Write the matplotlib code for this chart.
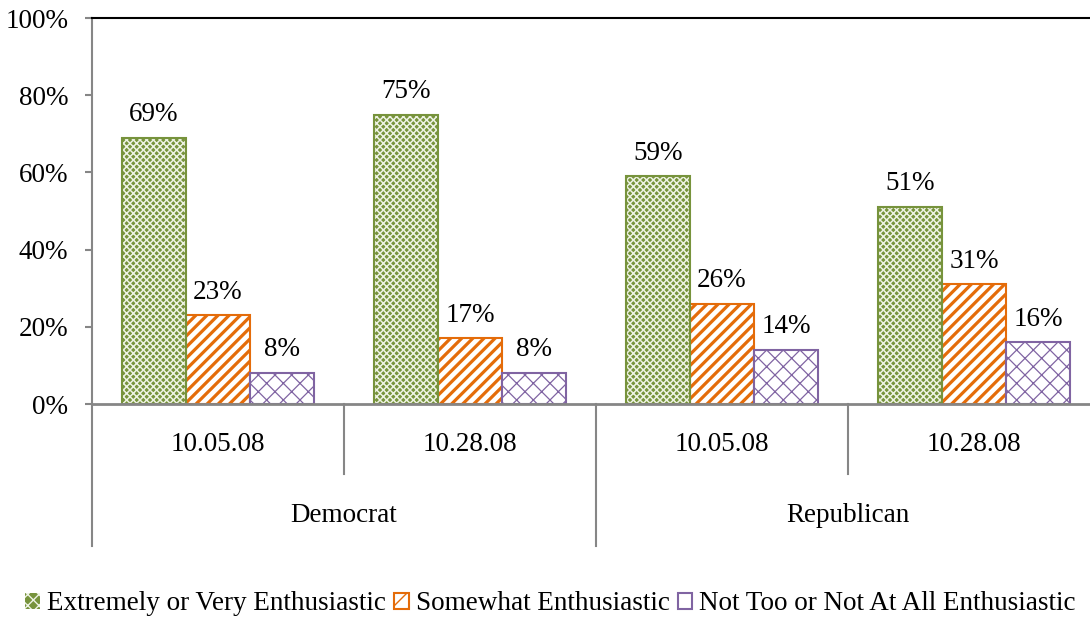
import matplotlib
matplotlib.use("Agg")
import matplotlib.pyplot as plt
from matplotlib.patches import Patch
from matplotlib.ticker import PercentFormatter
from matplotlib.transforms import blended_transform_factory

plt.rcParams['font.family'] = ['Liberation Serif', 'DejaVu Serif']

# data
dates = ['10.05.08', '10.28.08', '10.05.08', '10.28.08']
parties = ['Democrat', 'Republican']
series = [
    'Extremely or Very Enthusiastic',
    'Somewhat Enthusiastic',
    'Not Too or Not At All Enthusiastic',
]
extremely = [69, 75, 59, 51]
somewhat = [23, 17, 26, 31]
not_too = [8, 8, 14, 16]

GREEN = '#77933C'
ORANGE = '#E46C0A'
PURPLE = '#8064A2'
GRAY = '#868686'
LATTICE = '#EEF3E4'
FS = 19.5

W, H = 1090, 617
fig = plt.figure(figsize=(W / 100, H / 100), dpi=100)
ax = fig.add_axes([92 / W, (H - 404) / H, 1008 / W, 386 / H])

x = list(range(len(dates)))
bw = 0.254


def hatched(bars, lw):
    for b in bars:
        if hasattr(b, 'set_hatch_linewidth'):
            b.set_hatch_linewidth(lw)


# green: green face with a light lattice, then a green outline
g = ax.bar([i - bw for i in x], [v / 100 for v in extremely], bw,
           color=GREEN, edgecolor=LATTICE, hatch='xxxxx', linewidth=0, zorder=2)
hatched(g, 1.1)
ax.bar([i - bw for i in x], [v / 100 for v in extremely], bw,
       fill=False, edgecolor=GREEN, linewidth=1.5, zorder=3)

o = ax.bar(x, [v / 100 for v in somewhat], bw,
           facecolor='white', edgecolor=ORANGE, hatch='///', linewidth=1.5, zorder=2)
hatched(o, 2.3)

p = ax.bar([i + bw for i in x], [v / 100 for v in not_too], bw,
           facecolor='white', edgecolor=PURPLE, hatch='xx', linewidth=1.5, zorder=2)
hatched(p, 0.9)

for vals, off in [(extremely, -bw), (somewhat, 0), (not_too, bw)]:
    for i, v in zip(x, vals):
        ax.annotate(f'{v}%', (i + off, v / 100), xytext=(0, 12),
                    textcoords='offset points', ha='center', va='baseline',
                    fontsize=FS)

ax.set_xlim(-0.5, 3.5)
ax.set_ylim(0, 1)
ax.set_yticks([0, 0.2, 0.4, 0.6, 0.8, 1.0])
ax.yaxis.set_major_formatter(PercentFormatter(1.0, decimals=0))
ax.tick_params(axis='y', length=5, width=1.5, color=GRAY, pad=12, labelsize=FS)
ax.set_xticks([])

ax.spines['right'].set_visible(False)
ax.spines['top'].set_color('black')
ax.spines['top'].set_linewidth(1.5)
ax.spines['left'].set_color(GRAY)
ax.spines['left'].set_linewidth(1.5)
ax.spines['bottom'].set_color(GRAY)
ax.spines['bottom'].set_linewidth(2)
ax.spines['bottom'].set_zorder(4)

# two-level category axis
tr = blended_transform_factory(ax.transData, ax.transAxes)
for xs, y1 in [(-0.5, -0.368), (0.5, -0.181), (1.5, -0.368),
               (2.5, -0.181), (3.5, -0.368)]:
    ax.plot([xs, xs], [0, y1], transform=tr, color=GRAY, lw=1.5,
            clip_on=False, zorder=4)
for i, d in zip(x, dates):
    ax.text(i, -0.104, d, transform=tr, ha='center', va='center', fontsize=FS)
for j, party in enumerate(parties):
    ax.text(2 * j + 0.5, -0.29, party, transform=tr, ha='center',
            va='center', fontsize=FS)

handles = [
    Patch(facecolor=GREEN, edgecolor=LATTICE, hatch='xxx', linewidth=0),
    Patch(facecolor='white', edgecolor=ORANGE, hatch='//', linewidth=1.5),
    Patch(facecolor='white', edgecolor=PURPLE, hatch='x', linewidth=1.5),
]
fig.legend(handles, series, loc='center', bbox_to_anchor=(0.505, (H - 604) / H),
           ncol=3, frameon=False, fontsize=FS, handlelength=0.55,
           handleheight=0.55, handletextpad=0.25, columnspacing=0.3)

fig.savefig('out.png', dpi=100)
